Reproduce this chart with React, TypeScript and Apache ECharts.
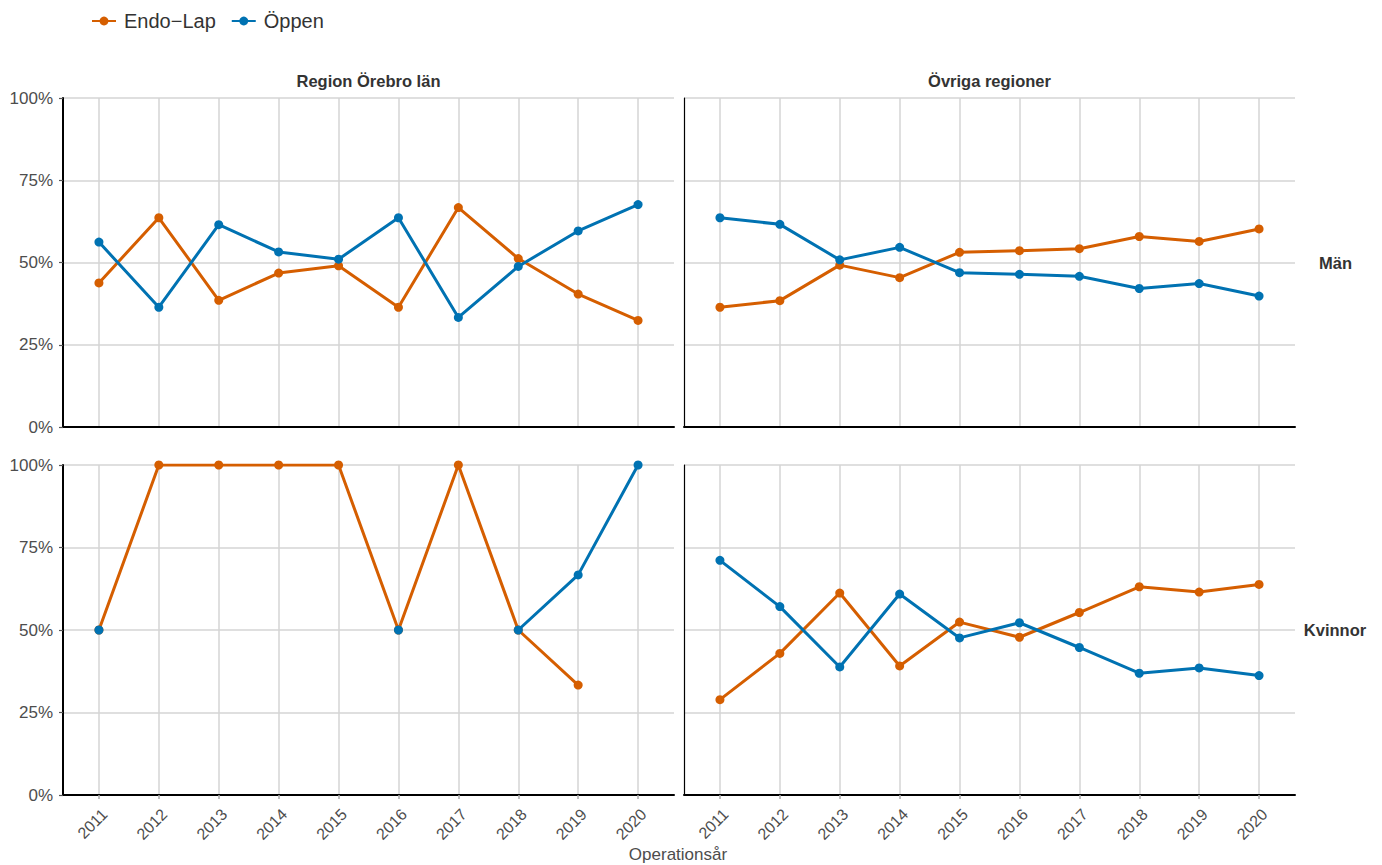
import React, { useEffect, useRef } from "react";
import * as echarts from "echarts";

const years = [2011, 2012, 2013, 2014, 2015, 2016, 2017, 2018, 2019, 2020];
const regionLabels = ["Region Örebro län", "Övriga regioner"];
const sexLabels = ["Män", "Kvinnor"];
const seriesNames = ["Endo−Lap", "Öppen"];
const seriesColors = ["#D55E00", "#0072B2"];

// Män
const endoOrebroMan = [43.8, 63.6, 38.5, 46.8, 49.0, 36.4, 66.7, 51.2, 40.4, 32.4];
const oppenOrebroMan = [56.2, 36.4, 61.5, 53.2, 51.0, 63.6, 33.3, 48.8, 59.6, 67.6];
const endoOvrigaMan = [36.4, 38.4, 49.2, 45.4, 53.1, 53.6, 54.2, 57.9, 56.4, 60.2];
const oppenOvrigaMan = [63.6, 61.6, 50.8, 54.6, 46.9, 46.4, 45.8, 42.1, 43.6, 39.8];
// Kvinnor
const endoOrebroKvinna = [50, 100, 100, 100, 100, 50, 100, 50, 33.3, null];
const oppenOrebroKvinna = [50, null, null, null, null, 50, null, 50, 66.7, 100];
const endoOvrigaKvinna = [28.9, 42.9, 61.2, 39.1, 52.4, 47.8, 55.3, 63.1, 61.5, 63.8];
const oppenOvrigaKvinna = [71.1, 57.1, 38.8, 60.9, 47.6, 52.2, 44.7, 36.9, 38.5, 36.2];

const FONT = "'Liberation Sans', Arial, Helvetica, sans-serif";

export default function App() {
  const ref = useRef<HTMLDivElement>(null);

  useEffect(() => {
    if (!ref.current) return;
    const chart = echarts.init(ref.current, undefined, { renderer: "svg" });

    const panels = [
      { endo: endoOrebroMan, oppen: oppenOrebroMan, isLeft: true, isBottom: false },
      { endo: endoOvrigaMan, oppen: oppenOvrigaMan, isLeft: false, isBottom: false },
      { endo: endoOrebroKvinna, oppen: oppenOrebroKvinna, isLeft: true, isBottom: true },
      { endo: endoOvrigaKvinna, oppen: oppenOvrigaKvinna, isLeft: false, isBottom: true },
    ];

    const grids = [
      { left: 63, top: 98, width: 611, height: 329 },
      { left: 684, top: 98, width: 611, height: 329 },
      { left: 63, top: 465, width: 611, height: 330 },
      { left: 684, top: 465, width: 611, height: 330 },
    ];

    const gridLine = { color: "#d4d4d4", width: 1.5 };

    const xAxes = panels.map((p, i) => ({
      type: "value",
      gridIndex: i,
      min: 2010.4,
      max: 2020.6,
      axisLine: { show: true, onZero: false, lineStyle: { color: "#000", width: 2 } },
      axisTick: {
        show: p.isBottom,
        customValues: years,
        length: 4,
        lineStyle: { color: "#aaaaaa", width: 1.5 },
      },
      axisLabel: {
        show: p.isBottom,
        customValues: years,
        rotate: 45,
        align: "right",
        verticalAlign: "top",
        margin: 11,
        fontSize: 16,
        fontFamily: FONT,
        color: "#4d4d4d",
        formatter: (v: number) => String(Math.round(v)),
      },
      splitLine: { show: true, lineStyle: gridLine },
    }));

    const yAxes = panels.map((p, i) => ({
      type: "value",
      gridIndex: i,
      min: 0,
      max: 100,
      interval: 25,
      axisLine: { show: true, lineStyle: { color: "#000", width: p.isLeft ? 2 : 1.2 } },
      axisTick: { show: p.isLeft, length: 4, lineStyle: { color: "#555", width: 1.2 } },
      axisLabel: {
        show: p.isLeft,
        formatter: "{value}%",
        fontSize: 17,
        fontFamily: FONT,
        color: "#4d4d4d",
        margin: 10,
      },
      splitLine: { show: true, lineStyle: gridLine },
    }));

    const series: any[] = [];
    panels.forEach((p, i) => {
      [p.endo, p.oppen].forEach((vals, k) => {
        series.push({
          type: "line",
          name: seriesNames[k],
          xAxisIndex: i,
          yAxisIndex: i,
          data: years.map((y, j) => [y, vals[j] === null ? "-" : vals[j]]),
          symbol: "circle",
          symbolSize: 9,
          connectNulls: false,
          lineStyle: { width: 3, color: seriesColors[k] },
          itemStyle: { color: seriesColors[k] },
          emphasis: { disabled: true },
          silent: true,
          z: 2 + k,
        });
      });
    });

    const txt = (text: string, x: number, y: number, size: number, bold: boolean, color: string) => ({
      type: "text",
      x,
      y,
      silent: true,
      style: {
        text,
        fontSize: size,
        fontWeight: bold ? "bold" : "normal",
        fontFamily: FONT,
        fill: color,
        textAlign: "center",
        align: "center",
        textVerticalAlign: "middle",
        verticalAlign: "middle",
      },
    });

    const option: any = {
      animation: false,
      backgroundColor: "#ffffff",
      textStyle: { fontFamily: FONT },
      legend: {
        data: seriesNames,
        left: 86,
        top: 6,
        itemWidth: 24,
        itemHeight: 11,
        itemGap: 15,
        textStyle: { fontSize: 20, color: "#333", fontFamily: FONT, padding: [0, 0, 0, 3] },
        selectedMode: false,
      },
      grid: grids,
      xAxis: xAxes,
      yAxis: yAxes,
      series,
      graphic: [
        txt(regionLabels[0], 368.5, 81, 16.5, true, "#333"),
        txt(regionLabels[1], 989.5, 81, 16.5, true, "#333"),
        txt(sexLabels[0], 1335.5, 263, 16.5, true, "#333"),
        txt(sexLabels[1], 1335, 630, 16.5, true, "#333"),
        txt("Operationsår", 678, 854, 17, false, "#4d4d4d"),
      ],
    };

    chart.setOption(option);
    return () => chart.dispose();
  }, []);

  return (
    <div
      ref={ref}
      style={{ position: "fixed", left: 0, top: 0, width: 1382, height: 865, background: "#fff" }}
    />
  );
}
